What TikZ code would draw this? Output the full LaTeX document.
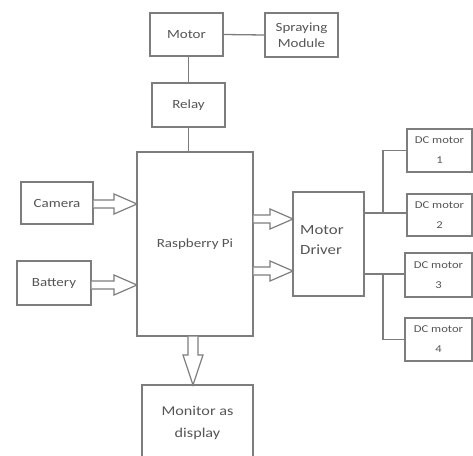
\documentclass[tikz,border=0pt]{standalone}
\usepackage{fontspec}
\setmainfont[FakeStretch=1.2]{Carlito}
\usetikzlibrary{calc}
\definecolor{ln}{RGB}{125,125,125}
\definecolor{tx}{RGB}{85,85,85}
\newcommand{\myfs}[2]{\fontsize{#1}{#2}\selectfont}
\tikzset{
  blk/.style={draw=ln, line width=1.3pt, text=tx, align=center, inner sep=0pt, font=\myfs{12.5pt}{15.5pt}},
  conn/.style={draw=ln, line width=1.3pt},
  hol/.style={draw=ln, line width=1.2pt, fill=white, line join=miter},
}
% horizontal hollow arrow from #1 to #2 (same y taken from #2)
\newcommand{\harr}[2]{%
  \draw[hol] let \p1=(#1), \p2=(#2) in
    (\x1,\y2+4pt) -- (\x2-23pt,\y2+4pt) -- (\x2-23pt,\y2+10pt) -- (\x2,\y2)
    -- (\x2-23pt,\y2-10pt) -- (\x2-23pt,\y2-4pt) -- (\x1,\y2-4pt);}
% vertical (downward) hollow arrow from #1 to #2 (x taken from #2)
\newcommand{\varr}[2]{%
  \draw[hol] let \p1=(#1), \p2=(#2) in
    (\x2-5pt,\y1) -- (\x2-5pt,\y2+30pt) -- (\x2-10pt,\y2+30pt) -- (\x2,\y2)
    -- (\x2+10pt,\y2+30pt) -- (\x2+5pt,\y2+30pt) -- (\x2+5pt,\y1);}
\begin{document}
\begin{tikzpicture}[x=1pt,y=-1pt]
\useasboundingbox (0,0) rectangle (473,455);
\clip (0,0) rectangle (473,455);
\node[blk, minimum width=73pt, minimum height=43pt] (motor) at (186.5,34.5) {Motor};
\node[blk, minimum width=73pt, minimum height=44pt] (spray) at (301.5,35) {Spraying\\Module};
\node[blk, minimum width=73pt, minimum height=44pt] (relay) at (188.5,105) {Relay};
\node[blk, minimum width=116pt, minimum height=184pt] (rpi) at (195,244) {Raspberry Pi};
\node[blk, minimum width=72pt, minimum height=42pt] (cam) at (57,203) {Camera};
\node[blk, minimum width=74pt, minimum height=44pt] (bat) at (54,283) {Battery};
\node[blk, minimum width=71pt, minimum height=104pt] (md) at (328.5,244) {};
\node[text=tx, align=left, anchor=west, inner sep=0pt, font=\myfs{14pt}{20pt}] (mdt) at (300,240) {Motor\\Driver};
\node[blk, minimum width=65pt, minimum height=43pt, font=\myfs{10.5pt}{20pt}] (dc1) at (439.5,150.5) {DC motor\\1};
\node[blk, minimum width=65pt, minimum height=42pt, font=\myfs{10.5pt}{20pt}] (dc2) at (439.5,215) {DC motor\\2};
\node[blk, minimum width=67pt, minimum height=44pt, font=\myfs{10.5pt}{20pt}] (dc3) at (438.5,275) {DC motor\\3};
\node[blk, minimum width=67pt, minimum height=43pt, font=\myfs{10.5pt}{20pt}] (dc4) at (438.5,339.5) {DC motor\\4};
\node[blk, minimum width=111pt, minimum height=75pt, font=\myfs{13.5pt}{22pt}] (mon) at (197.5,422.5) {Monitor as\\display};
% plain connectors
\draw[conn] (motor.east) -- (spray.west);
\draw[conn] (relay.north) -- (relay.north |- motor.south);
\draw[conn] (relay.south) -- (relay.south |- rpi.north);
\coordinate (j1) at (383,213);
\coordinate (j2) at (383,274);
\draw[conn] (md.east |- j1) -- (dc2.west |- j1);
\draw[conn] (j1) |- (dc1.west);
\draw[conn] (md.east |- j2) -- (dc3.west |- j2);
\draw[conn] (j2) |- (dc4.west);
% hollow arrows
\coordinate (a1) at (137,204);
\coordinate (a2) at (137,285);
\coordinate (a3) at (293,219);
\coordinate (a4) at (293,271);
\coordinate (a5) at (193,385);
\harr{cam.east}{a1}
\harr{bat.east}{a2}
\harr{rpi.east}{a3}
\harr{rpi.east}{a4}
\varr{rpi.south}{a5}
\end{tikzpicture}
\end{document}
